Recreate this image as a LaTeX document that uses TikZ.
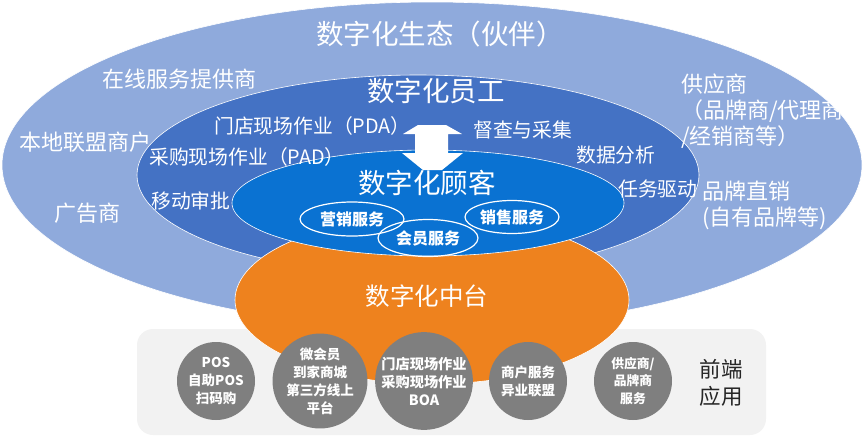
\documentclass[tikz,border=0pt]{standalone}
\usepackage{fontspec}
\setmainfont{Noto Sans CJK SC}
\usetikzlibrary{shapes.geometric}

\definecolor{ecoblue}{HTML}{8FAADC}
\definecolor{staffblue}{HTML}{4472C4}
\definecolor{custblue}{HTML}{0A72D2}
\definecolor{midorange}{HTML}{EE821E}
\definecolor{appbg}{HTML}{F2F2F2}
\definecolor{appdot}{HTML}{7F7F7F}

\begin{document}
\begin{tikzpicture}[
      x=1pt, y=-1pt,
      ring/.style={draw=white, line width=0.6pt},
      title/.style={text=white, inner sep=0pt, font=\fontsize{27.5}{32}\selectfont},
      outlbl/.style={text=white, inner sep=0pt, anchor=west, align=left, font=\fontsize{22}{26}\selectfont},
      inlbl/.style={text=white, inner sep=0pt, anchor=west, font=\fontsize{19.8}{24}\selectfont},
      svc/.style={ellipse, draw=white, line width=1.2pt, text=white, inner sep=0pt, font=\fontsize{16}{18}\selectfont\bfseries},
      app/.style={circle, fill=appdot, text=white, minimum size=78pt, inner sep=0pt, align=center, font=\fontsize{13.5}{18}\selectfont\bfseries}
    ]
      \useasboundingbox (0,0) rectangle (864,437);

      % rings, back to front
      \fill[ecoblue, ring] (432,165) ellipse [x radius=430, y radius=163];
      \fill[staffblue, ring] (418,175) ellipse [x radius=281, y radius=100];
      \fill[appbg, rounded corners=16pt] (137,329) rectangle (766,435);
      \fill[midorange, ring] (432,300) ellipse [x radius=197, y radius=84];
      \fill[custblue, ring] (428,203) ellipse [x radius=196, y radius=53];

      % two-way block arrow
      \fill[white] (418,125) -- (446,125) -- (462,134) -- (448,134) -- (448,153) -- (463,153)
        -- (442,170) -- (423,170) -- (402,153) -- (415,153) -- (415,134) -- (403,134) -- cycle;

      \node[title] (eco) at (440,34) {数字化生态（伙伴）};
      \node[title] (staff) at (436,91) {数字化员工};
      \node[title] (cust) at (427,183) {数字化顾客};
      \node[title, font=\fontsize{24.5}{28}\selectfont] (mid) at (427,296) {数字化中台};

      \node[outlbl] (online) at (102,79) {在线服务提供商};
      \node[outlbl] (local) at (19,142) {本地联盟商户};
      \node[outlbl] (ads) at (54,213) {广告商};
      \node[outlbl] (supply) at (681,111) {供应商\\（品牌商/代理商\\/经销商等）};
      \node[outlbl] (direct) at (702,205) {品牌直销\\(自有品牌等)};

      \node[inlbl] (pda) at (214,126) {门店现场作业（PDA）};
      \node[inlbl] (pad) at (149,157) {采购现场作业（PAD）};
      \node[inlbl] (approve) at (151,201) {移动审批};
      \node[inlbl] (inspect) at (473,130) {督查与采集};
      \node[inlbl] (analyse) at (576,155) {数据分析};
      \node[inlbl] (task) at (618,189) {任务驱动};

      \node[svc, minimum width=104pt, minimum height=34pt] (mkt) at (352,219) {营销服务};
      \node[svc, minimum width=94pt, minimum height=33pt] (sale) at (512,217) {销售服务};
      \node[svc, minimum width=100pt, minimum height=37pt] (vip) at (428,238) {会员服务};

      \node[app] (pos) at (216,381) {POS\\自助POS\\扫码购};
      \node[app] (member) at (320,381) {微会员\\到家商城\\第三方线上\\平台};
      \node[app, font=\fontsize{14.2}{18}\selectfont\bfseries] (store) at (424,381) {门店现场作业\\采购现场作业\\BOA};
      \node[app] (merchant) at (528,381) {商户服务\\异业联盟};
      \node[app, font=\fontsize{12.8}{17.5}\selectfont\bfseries] (vendor) at (633,381) {供应商/\\品牌商\\服务};
      \node[text=black!85, align=center, inner sep=0pt, font=\fontsize{21.5}{27}\selectfont] (front) at (721,383) {前端\\应用};
    \end{tikzpicture}
\end{document}
